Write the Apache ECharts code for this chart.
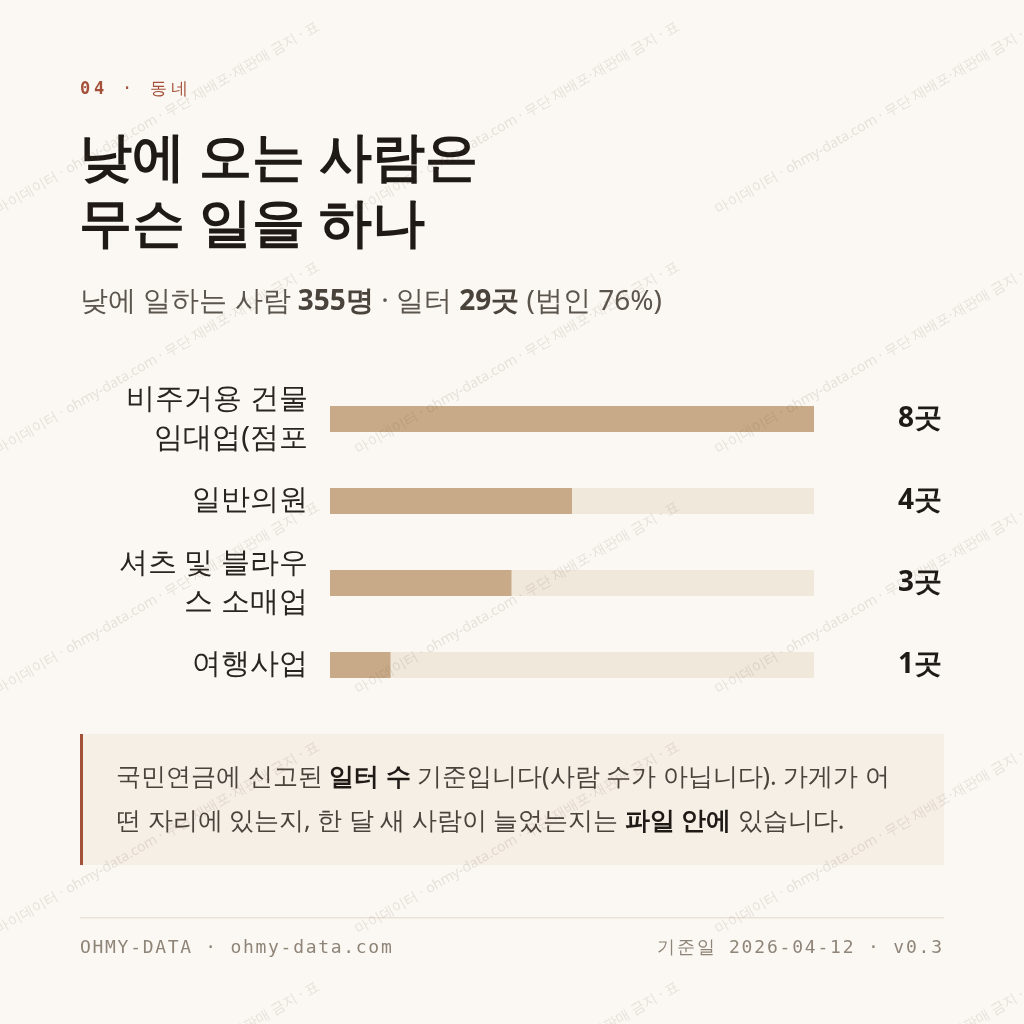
<!DOCTYPE html>
<html><head><meta charset="utf-8">
<script src="https://cdn.jsdelivr.net/npm/echarts@6/dist/echarts.min.js"></script>
<style>html,body{margin:0;padding:0;background:#fbf8f3;}#c{width:1024px;height:1024px;}</style>
</head><body><div id="c"></div>
<script>
// ---- data ----
const categories = ['비주거용 건물 임대업(점포', '일반의원', '셔츠 및 블라우스 소매업', '여행사업'];
const counts = [8, 4, 3, 1];
const countUnit = '곳';
const axisMax = 8;
const kickerText = '04 · 동네';
const titleLines = ['낮에 오는 사람은', '무슨 일을 하나'];
const peopleCount = 355;
const siteCount = 29;
const corpPct = 76;
const noteLine1 = ['국민연금에 신고된 ', '일터 수', ' 기준입니다(사람 수가 아닙니다). 가게가 어'];
const noteLine2 = ['떤 자리에 있는지, 한 달 새 사람이 늘었는지는 ', '파일 안에', ' 있습니다.'];
const footerLeft = 'OHMY-DATA · ohmy-data.com';
const footerRight = '기준일 2026-04-12 · v0.3';
const watermarkText = '마이데이터 · ohmy-data.com · 무단 재배포·재판매 금지 · 표';

// ---- styles ----
const SANS = '"Noto Sans", sans-serif';
const MONO = '"DejaVu Sans Mono", monospace';
const INK = '#1f1a16';
const RUST = '#a4503a';

const mctx = document.createElement('canvas').getContext('2d');
function textW(s, size, weight, family) {
  mctx.font = (weight || 'normal') + ' ' + size + 'px ' + family;
  return mctx.measureText(s).width;
}
// character-level wrap, trailing spaces trimmed
function wrapLabel(s, maxW, size, family) {
  const lines = [];
  let cur = '';
  for (const c of Array.from(s)) {
    if (cur && textW((cur + c).trimEnd(), size, 'normal', family) > maxW) {
      lines.push(cur.trimEnd());
      cur = c === ' ' ? '' : c;
    } else {
      cur += c;
    }
  }
  if (cur) lines.push(cur.trimEnd());
  return lines.join('\n');
}
// letter-spaced text, drawn one glyph at a time
function spacedText(str, x, y, opt) {
  const chars = Array.from(str);
  const ws = chars.map(c => textW(c, opt.size, opt.weight, opt.family) + opt.ls);
  const total = ws.reduce((a, b) => a + b, 0) - opt.ls;
  let cx = opt.align === 'right' ? x - total : x;
  const out = [];
  chars.forEach((c, i) => {
    if (c !== ' ') out.push({type:'text', x:cx, y:y, silent:true, style:{text:c, fontFamily:opt.family, fontSize:opt.size, fontWeight:opt.weight || 'normal', fill:opt.fill, textVerticalAlign:'middle'}});
    cx += ws[i];
  });
  return out;
}

const graphics = [];
// kicker
graphics.push(...spacedText(kickerText.slice(0, 2), 80, 90, {size:17, weight:'bold', family:MONO, fill:RUST, ls:3.8}));
graphics.push(...spacedText(kickerText.slice(2), 108, 90, {size:17, weight:'normal', family:MONO, fill:RUST, ls:3.8}));
// title
titleLines.forEach((t, i) => {
  graphics.push({type:'text', x:79, y:160 + i*66, style:{text:t, fontFamily:SANS, fontWeight:'bold', fontSize:53, fill:INK, textVerticalAlign:'middle'}});
});
// subtitle
graphics.push({type:'text', x:80, y:302, style:{
  text:'낮에 일하는 사람 {b|' + peopleCount + '명} · 일터 {b|' + siteCount + '곳} (법인 ' + corpPct + '%)',
  fontFamily:SANS, fontSize:28, fill:'#5c554e', textVerticalAlign:'middle',
  rich:{b:{fontFamily:SANS, fontSize:28, fontWeight:'bold', fill:'#4a433c'}}
}});
// note box
graphics.push({type:'rect', shape:{x:80, y:734, width:864, height:131}, style:{fill:'#f5efe6'}});
graphics.push({type:'rect', shape:{x:80, y:734, width:3, height:131}, style:{fill:RUST}});
[noteLine1, noteLine2].forEach((parts, i) => {
  graphics.push({type:'text', x:116, y:778 + i*44, style:{
    text: parts[0] + '{b|' + parts[1] + '}' + parts[2],
    fontFamily:SANS, fontSize:25, fill:'#4a433c', textVerticalAlign:'middle',
    rich:{b:{fontFamily:SANS, fontSize:25, fontWeight:'bold', fill:INK}}
  }});
});
// footer
graphics.push({type:'rect', shape:{x:80, y:917, width:864, height:1.5}, style:{fill:'#ebe3d8'}});
graphics.push(...spacedText(footerLeft, 80, 948, {size:18, family:MONO, fill:'#8f8478', ls:1.7}));
graphics.push(...spacedText(footerRight, 942, 948, {size:18, family:MONO, fill:'#8f8478', ls:1.8, align:'right'}));
// watermark
for (let col = 0; col < 3; col++) {
  for (let row = -1; row < 5; row++) {
    graphics.push({type:'text', x:col*360, y:217 + row*240, rotation:Math.PI/6, z:100, silent:true, style:{
      text:watermarkText, fontFamily:SANS, fontSize:14, fill:'rgba(110,90,70,0.15)', textAlign:'left', textVerticalAlign:'bottom'
    }});
  }
}

const LABEL_SIZE = 29;
const chart = echarts.init(document.getElementById('c'), null, {renderer:'canvas'});
chart.setOption({
  backgroundColor:'#fbf8f3',
  animation:false,
  grid:{left:330, right:210, top:378, height:328},
  xAxis:{type:'value', min:0, max:axisMax, show:false},
  yAxis:[{
    type:'category', data:categories, inverse:true,
    axisLine:{show:false}, axisTick:{show:false}, splitLine:{show:false},
    axisLabel:{fontFamily:SANS, fontSize:LABEL_SIZE, color:'#2a2420', lineHeight:39, margin:22, align:'right',
      formatter: v => wrapLabel(v, 200, LABEL_SIZE, SANS)}
  },{
    type:'category', data:counts.map(v => v + countUnit), inverse:true, position:'right',
    axisLine:{show:false}, axisTick:{show:false}, splitLine:{show:false},
    axisLabel:{fontFamily:SANS, fontSize:28, fontWeight:'bold', color:INK, margin:128, align:'right'}
  }],
  series:[{
    type:'bar', data:counts, barWidth:26, yAxisIndex:0,
    itemStyle:{color:'#c8aa88'},
    showBackground:true, backgroundStyle:{color:'#f1e8dc'}
  }],
  graphic:graphics
});
</script></body></html>
